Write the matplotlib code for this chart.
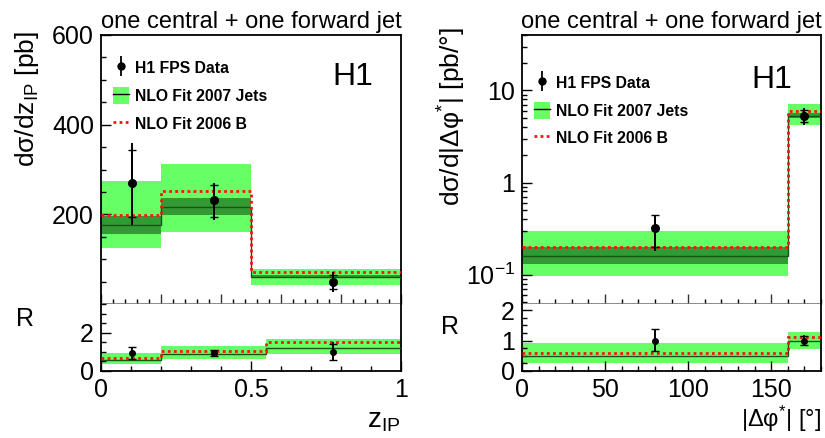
import matplotlib
matplotlib.use("Agg")
import matplotlib.pyplot as plt
import numpy as np
from matplotlib.lines import Line2D
from matplotlib.patches import Patch
from matplotlib.ticker import MultipleLocator, FixedLocator, LogLocator, NullFormatter, FixedFormatter

plt.rcParams['font.family'] = ['Liberation Sans', 'DejaVu Sans']
plt.rcParams['mathtext.fontset'] = 'custom'
plt.rcParams['mathtext.rm'] = 'Liberation Sans'
plt.rcParams['mathtext.it'] = 'Liberation Sans:italic'

# ---------------- data: z_IP ----------------
z_edges_top = [0.0, 0.2, 0.5, 1.0]
z_edges_ratio = [0.0, 0.2, 0.55, 1.0]
z_x = [0.104, 0.377, 0.774]
z_data = [269, 231, 49]
z_tot_up = [91, 40, 22]
z_tot_dn = [93, 44, 22]
z_stat_up = [75, 35, 15]
z_stat_dn = [76, 37, 16]
z_nlo_hi = [275, 313, 78]
z_nlo_lo = [124, 160, 43]
z_nlo_dhi = [196, 237, 64]
z_nlo_dlo = [157, 198, 57]
z_nlo = [177, 217, 60]
z_fitB = [198, 251, 72]

zr_hi = [0.95, 1.29, 1.66]
zr_lo = [0.35, 0.62, 0.91]
zr_nlo = [0.58, 0.90, 1.20]
zr_fitB = [0.69, 1.04, 1.50]
zr_data = [0.95, 0.95, 0.97]
zr_tot_up = [0.31, 0.17, 0.52]
zr_tot_dn = [0.33, 0.18, 0.42]
zr_stat_up = [0.28, 0.15, 0.45]
zr_stat_dn = [0.30, 0.16, 0.38]

# ---------------- data: |dphi*| ----------------
p_edges = [0, 160, 180]
p_x = [80, 170]
p_data = [0.32, 5.3]
p_tot_up = [0.12, 1.2]
p_tot_dn = [0.14, 1.1]
p_stat_up = [0.12, 0.9]
p_stat_dn = [0.12, 0.8]
p_nlo_hi = [0.30, 7.2]
p_nlo_lo = [0.097, 4.2]
p_nlo_dhi = [0.20, 5.7]
p_nlo_dlo = [0.13, 4.97]
p_nlo = [0.16, 5.3]
p_fitB = [0.20, 6.0]

pr_hi = [0.93, 1.29]
pr_lo = [0.27, 0.72]
pr_nlo = [0.49, 0.97]
pr_fitB = [0.60, 1.11]
pr_data = [0.97, 0.97]
pr_tot_up = [0.40, 0.21]
pr_tot_dn = [0.36, 0.16]
pr_stat_up = [0.40, 0.17]
pr_stat_dn = [0.32, 0.13]

LIGHT = '#66ff66'
DARK = '#339933'
CLINE = '#135513'
RED = '#ff1010'
TICKFS = 18

W, H = 825, 438
fig = plt.figure(figsize=(W / 100, H / 100), dpi=100)

def fx(px):
    return px / W

def fy(py):
    return 1 - py / H

def make_axes(x0, x1, ytop, ysep, ybot):
    top = fig.add_axes([fx(x0), fy(ysep), fx(x1 - x0), fy(ytop) - fy(ysep)])
    bot = fig.add_axes([fx(x0), fy(ybot), fx(x1 - x0), fy(ysep) - fy(ybot)])
    return top, bot

def style(ax, top_panel):
    ax.tick_params(which='both', direction='in', top=False, right=False,
                   labelsize=TICKFS, width=1.0)
    ax.tick_params(which='major', length=7)
    ax.tick_params(which='minor', length=3.5)
    ax.tick_params(axis='y', pad=5)
    ax.tick_params(axis='x', pad=5)
    for s in ax.spines.values():
        s.set_linewidth(1.3)
    if top_panel:
        ax.spines['bottom'].set_color('#777777')
        ax.spines['bottom'].set_linewidth(1.2)
        ax.tick_params(axis='x', labelbottom=False, color='#333333')
    else:
        ax.spines['top'].set_visible(False)

def draw_hist(ax, edges, hi, lo, central, fitB, dhi=None, dlo=None):
    ax.stairs(hi, edges, baseline=lo, fill=True, color=LIGHT, lw=0, zorder=1)
    if dhi is not None:
        ax.stairs(dhi, edges, baseline=dlo, fill=True, color=DARK, lw=0, zorder=2)
    ax.stairs(central, edges, baseline=None, color=CLINE, lw=1.0, zorder=3)
    ax.stairs(fitB, edges, baseline=None, color=RED, lw=2.0, ls=(0, (1, 1.2)), zorder=4)

def draw_data(ax, x, y, tu, td, su, sd, ms=5.5, lw=1.4):
    ax.errorbar(x, y, yerr=[td, tu], fmt='o', color='k', ms=ms, elinewidth=lw,
                capsize=0, zorder=6)
    ax.errorbar(x, y, yerr=[sd, su], fmt='none', ecolor='k', elinewidth=lw,
                capsize=3, capthick=1.0, zorder=6)

def legend(ax, anchor):
    h_data = (Line2D([], [], color='k', marker='|', ms=14, mew=1.3, ls='none'),
              Line2D([], [], color='k', marker='o', ms=5, ls='none'))
    h_nlo = (Patch(facecolor=LIGHT, edgecolor='none'),
             Line2D([], [], color='k', lw=1.0))
    h_fit = Line2D([], [], color=RED, lw=2, ls=(0, (1, 1.2)))
    leg = ax.legend([h_data, h_nlo, h_fit],
                    ['H1 FPS Data', 'NLO Fit 2007 Jets', 'NLO Fit 2006 B'],
                    loc='upper left', bbox_to_anchor=anchor, frameon=False,
                    prop={'weight': 'bold', 'size': 11.3},
                    handlelength=1.0, handleheight=1.35, handletextpad=0.4,
                    labelspacing=0.64, borderaxespad=0, borderpad=0)
    return leg

# ------------- left -------------
axL, axLr = make_axes(101, 401, 35, 304, 371)
style(axL, True)
style(axLr, False)
draw_hist(axL, z_edges_top, z_nlo_hi, z_nlo_lo, z_nlo, z_fitB, z_nlo_dhi, z_nlo_dlo)
draw_data(axL, z_x, z_data, z_tot_up, z_tot_dn, z_stat_up, z_stat_dn)
axL.set_xlim(0, 1)
axL.set_ylim(0, 600)
axL.xaxis.set_major_locator(MultipleLocator(0.2))
axL.xaxis.set_minor_locator(MultipleLocator(0.04))
axL.yaxis.set_major_locator(FixedLocator([200, 400, 600]))
axL.yaxis.set_minor_locator(MultipleLocator(50))
legend(axL, (0.04, 0.91))
axL.text(0.84, 0.845, 'H1', transform=axL.transAxes, fontsize=23,
         ha='center', va='center')
axL.set_title('one central + one forward jet', fontsize=17, pad=5)

draw_hist(axLr, z_edges_ratio, zr_hi, zr_lo, zr_nlo, zr_fitB)
draw_data(axLr, z_x, zr_data, zr_tot_up, zr_tot_dn, zr_stat_up, zr_stat_dn, ms=4, lw=1.2)
axLr.set_xlim(0, 1)
axLr.set_ylim(0, 3.5)
axLr.xaxis.set_major_locator(FixedLocator([0, 0.5, 1]))
axLr.xaxis.set_major_formatter(FixedFormatter(['0', '0.5', '1']))
axLr.xaxis.set_minor_locator(MultipleLocator(0.1))
axLr.yaxis.set_major_locator(FixedLocator([0, 2]))
axLr.yaxis.set_minor_locator(MultipleLocator(0.5))

# ------------- right -------------
axR, axRr = make_axes(522, 821, 35, 304, 371)
style(axR, True)
style(axRr, False)
axR.set_yscale('log')
draw_hist(axR, p_edges, p_nlo_hi, p_nlo_lo, p_nlo, p_fitB, p_nlo_dhi, p_nlo_dlo)
draw_data(axR, p_x, p_data, p_tot_up, p_tot_dn, p_stat_up, p_stat_dn)
axR.set_xlim(0, 180)
axR.set_ylim(0.048, 40)
axR.xaxis.set_major_locator(MultipleLocator(50))
axR.xaxis.set_minor_locator(MultipleLocator(10))
axR.yaxis.set_major_locator(FixedLocator([0.1, 1, 10]))
axR.yaxis.set_major_formatter(FixedFormatter(['10$^{-1}$', '1', '10']))
axR.yaxis.set_minor_locator(LogLocator(base=10, subs=np.arange(2, 10)))
axR.yaxis.set_minor_formatter(NullFormatter())
legend(axR, (0.04, 0.855))
axR.text(0.837, 0.833, 'H1', transform=axR.transAxes, fontsize=23,
         ha='center', va='center')
axR.set_title('one central + one forward jet', fontsize=17, pad=5)

draw_hist(axRr, p_edges, pr_hi, pr_lo, pr_nlo, pr_fitB)
draw_data(axRr, p_x, pr_data, pr_tot_up, pr_tot_dn, pr_stat_up, pr_stat_dn, ms=4, lw=1.2)
axRr.set_xlim(0, 180)
axRr.set_ylim(0, 2.2)
axRr.xaxis.set_major_locator(MultipleLocator(50))
axRr.xaxis.set_minor_locator(MultipleLocator(10))
axRr.yaxis.set_major_locator(FixedLocator([0, 1, 2]))
axRr.yaxis.set_minor_locator(MultipleLocator(0.25))

# ------------- labels -------------
fig.text(fx(27), fy(31), r'dσ/dz$_{\mathrm{IP}}$ [pb]', rotation=90,
         ha='center', va='top', fontsize=19)
fig.text(fx(452), fy(27), r'dσ/d|Δφ$^{*}$| [pb/°]', rotation=90,
         ha='center', va='top', fontsize=19)
fig.text(fx(25), fy(319), 'R', ha='center', va='center', fontsize=18)
fig.text(fx(450), fy(327), 'R', ha='center', va='center', fontsize=18)
fig.text(fx(401), fy(434), r'z$_{\mathrm{IP}}$', ha='right', va='bottom', fontsize=20)
fig.text(fx(821), fy(434), r'|Δφ$^{*}$| [°]', ha='right', va='bottom', fontsize=17)

fig.savefig('out.png', dpi=100)
